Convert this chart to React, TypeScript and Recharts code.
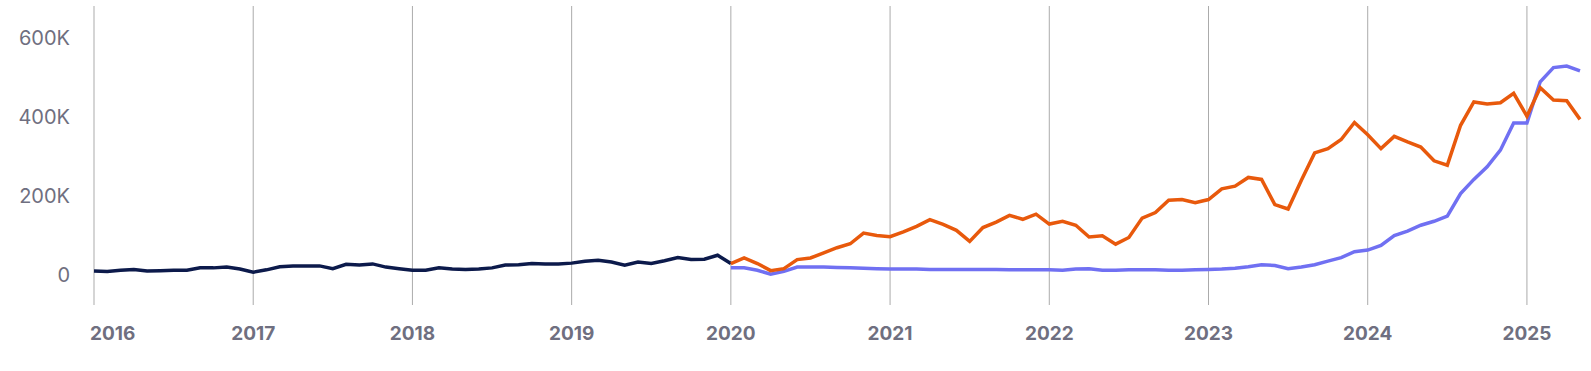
import { LineChart, Line, XAxis, YAxis, CartesianGrid } from 'recharts'

// monthly values in thousands
// dark series: Jan 2016 .. Jan 2020
const navyValues = [
  11, 10, 13, 15, 11, 12, 13, 13, 19, 19, 21, 16,
  8, 14, 22, 24, 24, 24, 17, 28, 26, 29, 21, 17,
  13, 13, 19, 16, 15, 16, 19, 26, 27, 30, 29, 29,
  31, 36, 38, 34, 26, 34, 30, 37, 45, 40, 41, 51,
  30,
]

// orange + purple series: Jan 2020 .. May 2025
const orangeValues = [
  30, 44, 30, 12, 17, 40, 44, 57, 70, 80, 107, 101,
  98, 110, 124, 141, 129, 114, 86, 121, 135, 152, 142, 155,
  130, 137, 127, 97, 100, 79, 96, 145, 159, 190, 192, 184,
  192, 219, 226, 248, 243, 179, 168, 241, 310, 321, 344, 387,
  356, 321, 352, 338, 325, 290, 279, 380, 439, 434, 437, 461,
  403, 475, 444, 442, 395,
]

const purpleValues = [
  19, 19, 13, 3, 10, 21, 21, 21, 20, 19, 18, 17,
  16, 16, 16, 15, 15, 15, 15, 15, 15, 14, 14, 14,
  14, 13, 16, 17, 13, 13, 14, 14, 14, 13, 13, 14,
  15, 16, 18, 22, 27, 25, 17, 21, 27, 36, 45, 60,
  64, 76, 101, 112, 127, 137, 150, 207, 243, 275, 317, 386,
  386, 490, 526, 530, 518,
]

const startYear = 2016
const splitIndex = 48 // Jan 2020
const yearTicks = [0, 12, 24, 36, 48, 60, 72, 84, 96, 108]
const valueTicks = [0, 200000, 400000, 600000]

const totalMonths = splitIndex + orangeValues.length
const data = Array.from({ length: totalMonths }, (_, i) => ({
  i,
  navy: i < navyValues.length ? navyValues[i] * 1000 : null,
  orange: i >= splitIndex ? orangeValues[i - splitIndex] * 1000 : null,
  purple: i >= splitIndex ? purpleValues[i - splitIndex] * 1000 : null,
}))

const FONT = 'Inter, "Noto Sans", sans-serif'
const LABEL = '#6f6f80'

function formatValue(v: number) {
  if (v === 0) return '0'
  return `${Math.round(v / 1000)}K`
}

function YearTick({ x, y, payload }: { x?: number; y?: number; payload?: { value: number } }) {
  const first = payload?.value === 0
  return (
    <text
      x={first ? (x ?? 0) - 4 : x}
      y={y}
      dy="0.71em"
      textAnchor={first ? 'start' : 'middle'}
      fill={LABEL}
      fontSize={19}
      fontWeight={700}
      fontFamily={FONT}
    >
      {startYear + Math.round((payload?.value ?? 0) / 12)}
    </text>
  )
}

// only the year lines, no extra line on the right edge
function yearLines({ xAxis, offset }: any) {
  const scale = xAxis?.scale
  if (typeof scale === 'function') return yearTicks.map((t) => scale(t))
  return yearTicks.map((t) => offset.left + (t / (totalMonths - 1)) * offset.width)
}

export default function App() {
  return (
    <div style={{ position: 'absolute', left: 0, top: 0, background: '#fff' }}>
      <LineChart width={1591} height={371} data={data} margin={{ top: 6, right: 11, bottom: 16, left: 14 }}>
        <CartesianGrid horizontal={false} stroke="#ababab" strokeWidth={1} verticalCoordinatesGenerator={yearLines} />
        <XAxis
          dataKey="i"
          type="number"
          domain={[0, totalMonths - 1]}
          ticks={yearTicks}
          interval={0}
          height={50}
          axisLine={false}
          tickLine={false}
          tickMargin={16}
          tick={<YearTick />}
        />
        <YAxis
          domain={[-75000, 682000]}
          ticks={valueTicks}
          interval={0}
          width={80}
          axisLine={false}
          tickLine={false}
          tickMargin={18}
          tickFormatter={formatValue}
          tick={{ fontSize: 20, fill: LABEL, fontFamily: FONT }}
        />
        <Line dataKey="navy" stroke="#0c1a4b" strokeWidth={3.5} dot={false} type="linear" isAnimationActive={false} />
        <Line dataKey="purple" stroke="#7070f2" strokeWidth={3.5} dot={false} type="linear" isAnimationActive={false} />
        <Line dataKey="orange" stroke="#e8590c" strokeWidth={3.5} dot={false} type="linear" isAnimationActive={false} />
      </LineChart>
    </div>
  )
}
